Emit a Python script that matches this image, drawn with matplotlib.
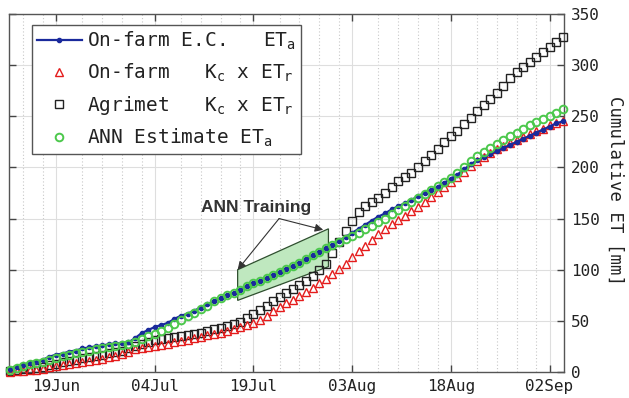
import numpy as np
import pandas as pd
import matplotlib
matplotlib.use('Agg')
import matplotlib.pyplot as plt
import matplotlib.dates as mdates
from matplotlib.patches import Polygon
from matplotlib.ticker import FixedLocator

# ---------------- data ----------------
start_date = '2016-06-12'

ec_eta = [3, 5, 7, 9, 10, 12, 15, 17, 18, 20,
          21, 23, 24, 25, 26, 27, 28, 28, 29, 33,
          38, 41, 44, 46, 48, 52, 55, 57, 60, 63,
          66, 69, 72, 75, 77, 80, 84, 87, 89, 92,
          95, 98, 101, 104, 107, 110, 114, 117, 121, 124,
          128, 132, 136, 140, 144, 148, 152, 155, 159, 162,
          165, 168, 172, 175, 178, 181, 185, 189, 193, 198,
          203, 207, 210, 213, 216, 219, 222, 225, 228, 231,
          234, 237, 240, 243, 245]

kc_etr_farm = [0, 1, 1, 2, 2, 3, 5, 6, 7, 8,
               9, 10, 11, 12, 13, 15, 16, 18, 20, 22,
               23, 24, 25, 26, 27, 29, 30, 31, 33, 34,
               36, 37, 38, 40, 42, 44, 46, 48, 51, 55,
               60, 64, 67, 70, 74, 78, 82, 87, 91, 96,
               101, 106, 112, 118, 123, 129, 135, 140, 145, 149,
               153, 157, 161, 166, 171, 176, 181, 186, 191, 196,
               201, 206, 210, 214, 218, 221, 224, 227, 230, 233,
               236, 238, 241, 243, 245]

kc_etr_agrimet = [1, 2, 3, 3, 4, 5, 7, 8, 10, 11,
                  12, 14, 15, 16, 17, 19, 20, 21, 23, 25,
                  27, 29, 31, 32, 33, 34, 35, 36, 37, 38,
                  40, 42, 43, 45, 47, 49, 53, 57, 61, 65,
                  69, 73, 77, 81, 85, 89, 94, 100, 106, 116,
                  127, 138, 148, 156, 162, 166, 170, 175, 181, 187,
                  191, 195, 200, 206, 212, 218, 225, 231, 236, 242,
                  248, 255, 261, 267, 273, 280, 287, 293, 298, 303,
                  308, 313, 318, 323, 328]

ann_eta = [2, 4, 6, 8, 9, 10, 12, 14, 16, 17,
           19, 20, 21, 22, 23, 24, 25, 26, 27, 29,
           32, 35, 37, 40, 43, 47, 51, 55, 58, 62,
           65, 69, 72, 75, 77, 80, 84, 87, 89, 92,
           95, 98, 101, 104, 107, 110, 114, 117, 121, 124,
           127, 130, 133, 136, 140, 143, 147, 150, 154, 158,
           162, 166, 170, 174, 178, 182, 186, 190, 195, 200,
           206, 211, 215, 219, 223, 227, 231, 234, 238, 241,
           244, 247, 250, 253, 257]

series_labels = ['On-farm E.C.   ET$_a$',
                 'On-farm   K$_c$ x ET$_r$',
                 'Agrimet   K$_c$ x ET$_r$',
                 'ANN Estimate ET$_a$']

tick_dates = ['2016-06-19', '2016-07-04', '2016-07-19',
              '2016-08-03', '2016-08-18', '2016-09-02']
y_ticks = [0, 50, 100, 150, 200, 250, 300, 350]

# training window annotation (day offsets from start, values)
train_days = [34.6, 48.4]
train_lower = [70, 103]
train_upper = [100, 140]
train_text = 'ANN Training'
train_text_pos = (37.4, 161)
arrow_start = (40.9, 150)
arrow_ends = [(34.6, 100), (47.6, 139)]

# ---------------- style ----------------
plt.rcParams['font.family'] = ['DejaVu Sans Mono']
plt.rcParams['mathtext.fontset'] = 'custom'
plt.rcParams['mathtext.rm'] = 'DejaVu Sans Mono'
plt.rcParams['mathtext.it'] = 'DejaVu Sans Mono'
plt.rcParams['mathtext.default'] = 'rm'

fig = plt.figure(figsize=(6.29, 3.98), dpi=100)
ax = fig.add_axes([9 / 629, 1 - 372 / 398, 555 / 629, 358 / 398])

dates = pd.date_range(start_date, periods=len(ec_eta), freq='D')
t0 = mdates.date2num(pd.Timestamp(start_date))

def dnum(day):
    return t0 + day

# training box
poly = Polygon([(dnum(train_days[0]), train_lower[0]),
                (dnum(train_days[0]), train_upper[0]),
                (dnum(train_days[1]), train_upper[1]),
                (dnum(train_days[1]), train_lower[1])],
               closed=True, facecolor='#bfe8bf', edgecolor='#2f4f2f',
               lw=0.9, alpha=1.0, zorder=2)
ax.add_patch(poly)

l_sq, = ax.plot(dates, kc_etr_agrimet, ls='none', marker='s', ms=5.5,
                mfc='none', mec='#222222', mew=1.0, zorder=3, clip_on=False)
l_tr, = ax.plot(dates, kc_etr_farm, ls='none', marker='^', ms=6,
                mfc='none', mec='#e41c1c', mew=1.0, zorder=4, clip_on=False)
l_bl, = ax.plot(dates, ec_eta, ls='-', color='#1a2a9c', lw=1.6, marker='o',
                ms=3, mfc='#1a2a9c', mec='#1a2a9c', zorder=5, clip_on=False)
l_gr, = ax.plot(dates, ann_eta, ls='none', marker='o', ms=5.5,
                mfc='none', mec='#4cc84c', mew=1.4, zorder=6, clip_on=False)

ax.set_xlim(dnum(-0.15), dnum(84.2))
ax.set_ylim(0, 350)

# ticks
major = [mdates.date2num(pd.Timestamp(d)) for d in tick_dates]
ax.xaxis.set_major_locator(FixedLocator(major))
ax.xaxis.set_major_formatter(mdates.DateFormatter('%d%b'))
minor = []
for m in [major[0] - 15] + major:
    for off in (4, 7, 10, 13):
        minor.append(m + off)
ax.xaxis.set_minor_locator(FixedLocator(minor))
ax.set_yticks(y_ticks)

ax.yaxis.tick_right()
ax.tick_params(axis='both', which='major', direction='in', length=5,
               width=1, color='#444444', labelsize=11.5, labelcolor='#222222',
               top=True, bottom=True, left=True, right=True,
               labelleft=False, labelright=True)
ax.tick_params(axis='x', which='major', pad=5)
ax.tick_params(axis='y', which='major', pad=5)
ax.tick_params(which='minor', length=0)

ax.grid(True, which='major', color='#dedede', lw=0.8, ls='-', zorder=0)
ax.grid(True, which='minor', axis='x', color='#c8c8c8', lw=0.8, ls=(0, (1, 2)), zorder=0)
ax.set_axisbelow(True)

for s in ax.spines.values():
    s.set_color('#555555')
    s.set_linewidth(1.0)

fig.text(615 / 629, 1 - 191 / 398, 'Cumulative ET [mm]', rotation=270,
         ha='center', va='center', fontsize=12.5, color='#222222')

# annotation
ax.text(dnum(train_text_pos[0]), train_text_pos[1], train_text,
        family=['Liberation Sans', 'DejaVu Sans'], fontweight='bold',
        fontsize=12.5, color='#333333', ha='center', va='center', zorder=8)
for e in arrow_ends:
    ax.annotate('', xy=(dnum(e[0]), e[1]),
                xytext=(dnum(arrow_start[0]), arrow_start[1]),
                arrowprops=dict(arrowstyle='-|>', color='#333333', lw=0.8,
                                mutation_scale=12, shrinkA=0, shrinkB=0),
                zorder=8)

leg = ax.legend([l_bl, l_tr, l_sq, l_gr], series_labels,
                loc='upper left', bbox_to_anchor=((32 - 9) / 555, (372 - 25) / 358),
                borderaxespad=0, fontsize=14, handlelength=2.3,
                handletextpad=0.3, borderpad=0.25, labelspacing=0.5,
                fancybox=False, framealpha=1, edgecolor='#555555')
leg.get_frame().set_linewidth(1.0)
leg.set_zorder(10)
for t in leg.get_texts():
    t.set_color('#222222')

fig.savefig('out.png', dpi=100)
